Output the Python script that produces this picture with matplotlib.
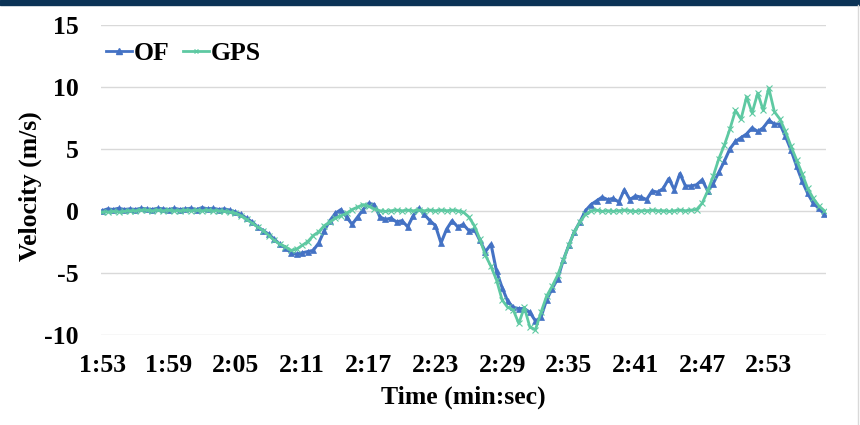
import matplotlib
matplotlib.use('Agg')
import matplotlib.pyplot as plt
import numpy as np
from matplotlib.patches import Rectangle
from matplotlib.lines import Line2D

# velocity samples every 0.5 s, starting at 1:53
of_vel = [
    0.0, 0.15, 0.1, 0.2, 0.1, 0.15, 0.1, 0.2, 0.15, 0.1,
    0.2, 0.15, 0.1, 0.2, 0.1, 0.15, 0.2, 0.1, 0.25, 0.15,
    0.2, 0.1, 0.15, 0.05, -0.1, -0.3, -0.6, -0.9, -1.3, -1.6,
    -1.9, -2.3, -2.7, -3.0, -3.4, -3.5, -3.4, -3.3, -3.2, -2.6,
    -1.6, -0.8, -0.2, 0.1, -0.5, -1.1, -0.5, 0.1, 0.6, 0.5,
    -0.5, -0.7, -0.6, -0.9, -0.8, -1.3, -0.4, 0.2, -0.3, -0.8,
    -1.2, -2.6, -1.5, -0.8, -1.3, -1.1, -1.6, -1.5, -2.4, -3.3,
    -2.7, -4.9, -6.2, -7.3, -7.8, -7.9, -7.9, -8.2, -8.9, -8.6,
    -7.2, -6.3, -5.5, -4.0, -2.8, -1.7, -0.9, 0.0, 0.5, 0.8,
    1.1, 0.9, 1.0, 0.7, 1.7, 0.9, 1.2, 1.1, 0.9, 1.6,
    1.5, 1.8, 2.6, 1.7, 3.0, 2.0, 2.0, 2.1, 2.5, 1.6,
    2.2, 3.1, 4.0, 5.0, 5.6, 5.9, 6.2, 6.7, 6.4, 6.7,
    7.3, 7.0, 7.0, 6.0, 4.9, 3.6, 2.4, 1.4, 0.6, 0.2,
    -0.3,
]
gps_vel = [
    -0.1, -0.1, -0.05, -0.1, -0.05, 0.0, 0.0, 0.05, 0.05, 0.0,
    0.05, 0.0, 0.05, 0.0, 0.0, 0.05, 0.0, 0.05, 0.0, 0.05,
    0.0, 0.0, -0.05, -0.1, -0.2, -0.4, -0.7, -1.0, -1.3, -1.6,
    -2.0, -2.4, -2.7, -2.9, -3.2, -3.1, -2.8, -2.5, -2.0, -1.7,
    -1.2, -0.9, -0.6, -0.4, -0.2, 0.1, 0.3, 0.5, 0.35, 0.15,
    0.0, -0.05, 0.0, 0.05, 0.0, 0.05, 0.0, 0.05, 0.0, 0.05,
    0.0, 0.05, 0.0, 0.05, 0.0, -0.1, -0.5, -1.2, -2.3, -3.6,
    -4.5, -5.6, -7.2, -7.8, -8.0, -9.1, -7.8, -9.4, -9.6, -8.2,
    -6.9, -6.1, -5.2, -4.0, -2.8, -1.7, -0.9, -0.3, 0.0, 0.05,
    -0.05, 0.0, -0.05, 0.0, 0.05, 0.0, -0.05, 0.0, 0.0, 0.05,
    0.0, 0.0, -0.05, 0.0, 0.05, 0.0, 0.05, 0.1, 0.6, 1.6,
    2.8, 4.2, 5.3, 6.6, 8.1, 7.4, 9.2, 7.9, 9.5, 8.1,
    9.9, 8.0, 7.4, 6.4, 5.2, 4.1, 3.0, 1.8, 1.0, 0.4,
    0.0,
]
tick_labels = ['1:53', '1:59', '2:05', '2:11', '2:17', '2:23', '2:29',
               '2:35', '2:41', '2:47', '2:53']

OF_COLOR = '#4472C4'
GPS_COLOR = '#5EC9A2'
FS = 18.5

plt.rcParams['font.family'] = ['Liberation Serif', 'DejaVu Serif']
plt.rcParams['font.weight'] = 'bold'
plt.rcParams['axes.unicode_minus'] = False

fig = plt.figure(figsize=(8.6, 4.25), dpi=100)
ax = fig.add_axes([0.1174, 0.2127, 0.8431, 0.7285])

idx = np.arange(len(of_vel))
ax.plot(idx, of_vel, '-', color=OF_COLOR, lw=2.2, marker='^', ms=5,
        mew=0.5, zorder=3, label='OF')
ax.plot(idx, gps_vel, '-', color=GPS_COLOR, lw=2, marker='x', ms=4,
        mew=0.8, zorder=4, label='GPS')

ax.set_ylim(-10, 15)
ax.set_yticks([-10, -5, 0, 5, 10, 15])
ax.set_xlim(-0.2, 130.3)
ax.set_xticks(np.arange(len(tick_labels)) * 12)
ax.set_xticklabels(tick_labels)
ax.tick_params(length=0, labelsize=FS, pad=14)
ax.tick_params(axis='y', pad=16)
for lab in ax.get_xticklabels() + ax.get_yticklabels():
    lab.set_fontweight('bold')

ax.grid(axis='y', color='#d9d9d9', lw=1)
ax.set_axisbelow(True)
for s in ax.spines.values():
    s.set_visible(False)

ax.set_xlabel('Time (min:sec)', fontsize=FS, fontweight='bold', labelpad=6)
ax.set_ylabel('Velocity (m/s)', fontsize=FS, fontweight='bold', va='center')
ax.yaxis.set_label_coords(-0.098, 0.48)

handles = [Line2D([], [], color=OF_COLOR, lw=2, marker='^', ms=4),
           Line2D([], [], color=GPS_COLOR, lw=2, marker='x', ms=3.5)]
ax.legend(handles, ['OF', 'GPS'], loc='upper left', ncol=2, frameon=False,
          handlelength=1.0, handletextpad=0.1, columnspacing=0.5,
          bbox_to_anchor=(-0.025, 1.02),
          prop={'weight': 'bold', 'size': FS})

# dark band at top and thin border on the right
fig.patches.append(Rectangle((0, 1 - 5 / 425), 1, 5 / 425,
                             transform=fig.transFigure,
                             color='#0b3356', zorder=0))
fig.add_artist(Line2D([858 / 860, 858 / 860], [0, 1 - 5 / 425],
                      transform=fig.transFigure, color='#d9d9d9', lw=1))

plt.savefig('out.png', dpi=100)
